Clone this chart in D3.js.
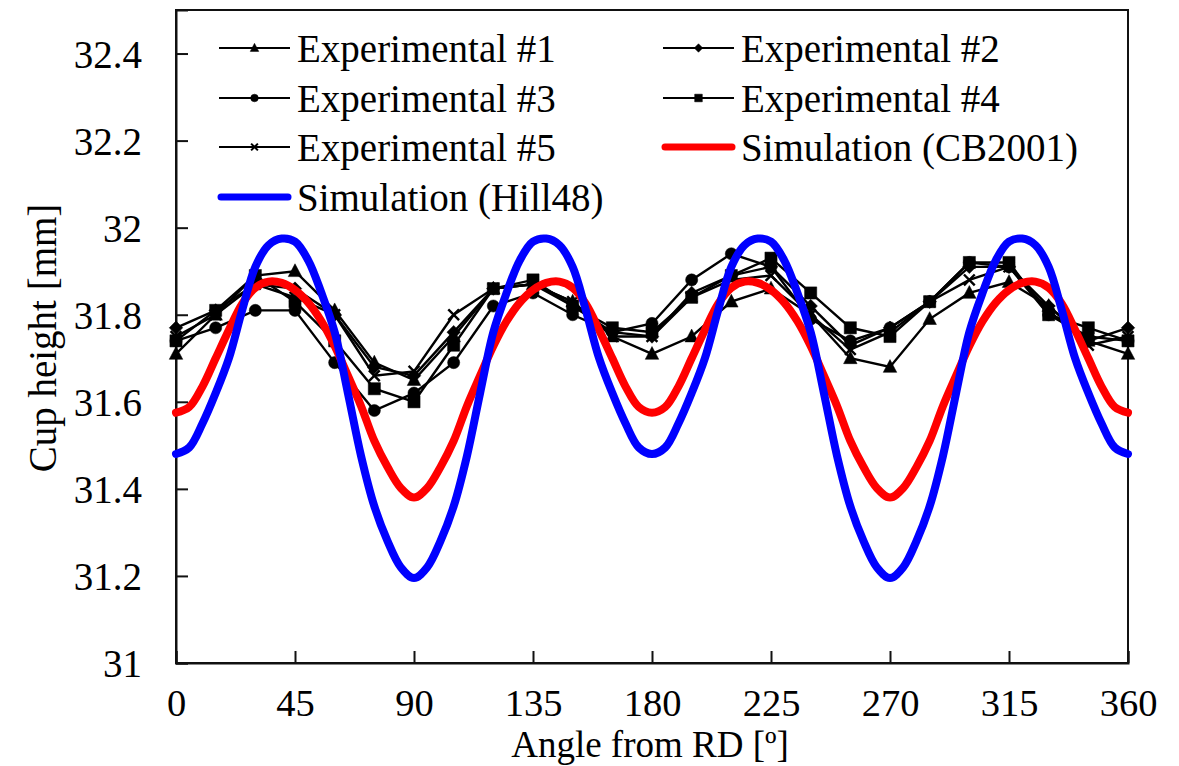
<!DOCTYPE html>
<html>
<head>
<meta charset="utf-8">
<script src="https://cdn.jsdelivr.net/npm/d3@7"></script>
<style>
  body { margin: 0; background: #fff; }
  text { font-family: "Liberation Serif", "Times New Roman", serif; fill: #000; }
</style>
</head>
<body>
<div class="chart"></div>
<script>
// measured angles (every 15 deg)
var expAngles = [0,15,30,45,60,75,90,105,120,135,150,165,180,195,210,225,240,255,270,285,300,315,330,345,360];
var exp1 = [31.71,31.80,31.89,31.90,31.81,31.69,31.65,31.75,31.86,31.87,31.83,31.75,31.71,31.75,31.83,31.86,31.80,31.70,31.68,31.79,31.85,31.875,31.82,31.74,31.71];
var exp2 = [31.77,31.81,31.87,31.86,31.80,31.68,31.66,31.76,31.86,31.87,31.82,31.76,31.75,31.85,31.89,31.91,31.82,31.73,31.77,31.83,31.91,31.91,31.82,31.74,31.77];
var exp3 = [31.74,31.77,31.81,31.81,31.69,31.58,31.62,31.69,31.82,31.85,31.80,31.76,31.78,31.88,31.94,31.91,31.79,31.74,31.77,31.83,31.92,31.91,31.80,31.75,31.74];
var exp4 = [31.74,31.81,31.89,31.83,31.74,31.63,31.60,31.73,31.86,31.88,31.82,31.77,31.76,31.84,31.89,31.93,31.85,31.77,31.75,31.83,31.92,31.92,31.80,31.77,31.74];
var exp5 = [31.75,31.80,31.87,31.84,31.80,31.66,31.67,31.80,31.86,31.87,31.83,31.75,31.75,31.84,31.88,31.89,31.80,31.72,31.76,31.83,31.88,31.91,31.81,31.73,31.75];

// simulation curves (every 5 deg)
var simAngles = [0,5,10,15,20,25,30,35,40,45,50,55,60,65,70,75,80,85,90,95,100,105,110,115,120,125,130,135,140,145,150,155,160,165,170,175,180,
  185,190,195,200,205,210,215,220,225,230,235,240,245,250,255,260,265,270,275,280,285,290,295,300,305,310,315,320,325,330,335,340,345,350,355,360];
var simCB2001 = [31.575,31.588,31.635,31.70,31.765,31.825,31.862,31.876,31.873,31.857,31.828,31.785,31.728,31.66,31.59,31.51,31.45,31.402,31.38,
  31.402,31.45,31.51,31.59,31.66,31.728,31.785,31.828,31.857,31.873,31.876,31.862,31.825,31.765,31.70,31.635,31.588,31.575,
  31.588,31.635,31.70,31.765,31.825,31.862,31.876,31.873,31.857,31.828,31.785,31.728,31.66,31.59,31.51,31.45,31.402,31.38,
  31.402,31.45,31.51,31.59,31.66,31.728,31.785,31.828,31.857,31.873,31.876,31.862,31.825,31.765,31.70,31.635,31.588,31.575];
var simHill48 = [31.48,31.495,31.55,31.62,31.70,31.81,31.91,31.96,31.975,31.968,31.925,31.85,31.76,31.62,31.475,31.36,31.28,31.22,31.195,
  31.22,31.28,31.36,31.475,31.62,31.76,31.85,31.925,31.968,31.975,31.96,31.91,31.81,31.70,31.62,31.55,31.495,31.48,
  31.495,31.55,31.62,31.70,31.81,31.91,31.96,31.975,31.968,31.925,31.85,31.76,31.62,31.475,31.36,31.28,31.22,31.195,
  31.22,31.28,31.36,31.475,31.62,31.76,31.85,31.925,31.968,31.975,31.96,31.91,31.81,31.70,31.62,31.55,31.495,31.48];

var xTicks = [0,45,90,135,180,225,270,315,360];
var yTicks = [31,31.2,31.4,31.6,31.8,32,32.2,32.4];

var seriesNames = ["Experimental #1","Experimental #2","Experimental #3","Experimental #4","Experimental #5","Simulation (CB2001)","Simulation (Hill48)"];

var svgWidth = 1179, svgHeight = 766;
var margin = {top: 10, right: 51, bottom: 103, left: 176};
var chart_width = svgWidth - margin.left - margin.right,
    chart_height = svgHeight - margin.top - margin.bottom;

var svg = d3.select(".chart").append("svg")
    .attr("width", svgWidth)
    .attr("height", svgHeight);

var x = d3.scaleLinear().domain([0, 360]).range([margin.left, margin.left + chart_width]);
var y = d3.scaleLinear().domain([31, 32.5]).range([margin.top + chart_height, margin.top]);

var fontSize = 39;

// frame
svg.append("rect")
  .attr("x", x(0)).attr("y", y(32.5))
  .attr("width", x(360) - x(0)).attr("height", y(31) - y(32.5))
  .attr("fill", "none").attr("stroke", "#111").attr("stroke-width", 2);

// axes with inward ticks
var xAxis = svg.append("g")
  .attr("transform", "translate(0," + y(31) + ")")
  .call(d3.axisBottom(x).tickValues(xTicks).tickSize(-12).tickPadding(0).tickFormat(d3.format("d")));
xAxis.select(".domain").attr("stroke", "#111").attr("stroke-width", 2);
xAxis.selectAll(".tick line").attr("stroke", "#111").attr("stroke-width", 2);
xAxis.selectAll(".tick text")
  .attr("y", 53).attr("dy", 0)
  .style("font-size", "38.5px");

var yAxis = svg.append("g")
  .attr("transform", "translate(" + x(0) + ",0)")
  .call(d3.axisLeft(y).tickValues(yTicks).tickSize(-12).tickPadding(0).tickFormat(function(d){ return d3.format("")(+d.toFixed(1)); }));
yAxis.select(".domain").attr("stroke", "#111").attr("stroke-width", 2);
yAxis.selectAll(".tick line").attr("stroke", "#111").attr("stroke-width", 2);
yAxis.selectAll(".tick text")
  .attr("x", -34).attr("dy", "0.35em")
  .style("font-size", fontSize + "px");

// axis titles
svg.append("text")
  .attr("x", 650).attr("y", 757)
  .attr("text-anchor", "middle")
  .style("font-size", "37px")
  .text("Angle from RD [º]");

svg.append("text")
  .attr("transform", "translate(56,338) rotate(-90)")
  .attr("text-anchor", "middle")
  .style("font-size", fontSize + "px")
  .text("Cup height [mm]");

// marker shapes
function markerPath(kind, s) {
  var h = s / 2;
  if (kind === "triangle") return "M0," + (-h * 1.1) + "L" + h + "," + (h * 0.8) + "L" + (-h) + "," + (h * 0.8) + "Z";
  if (kind === "diamond") return "M0," + (-h) + "L" + h + ",0L0," + h + "L" + (-h) + ",0Z";
  if (kind === "square") return "M" + (-h * 0.9) + "," + (-h * 0.9) + "h" + (s * 0.9) + "v" + (s * 0.9) + "h" + (-s * 0.9) + "Z";
  if (kind === "circle") { var r = h * 0.9; return "M" + (-r) + ",0A" + r + "," + r + " 0 1,0 " + r + ",0A" + r + "," + r + " 0 1,0 " + (-r) + ",0Z"; }
  if (kind === "x") { var c = h * 0.8; return "M" + (-c) + "," + (-c) + "L" + c + "," + c + "M" + (-c) + "," + c + "L" + c + "," + (-c); }
}

var expSeries = [
  {name: seriesNames[0], values: exp1, marker: "triangle"},
  {name: seriesNames[1], values: exp2, marker: "diamond"},
  {name: seriesNames[2], values: exp3, marker: "circle"},
  {name: seriesNames[3], values: exp4, marker: "square"},
  {name: seriesNames[4], values: exp5, marker: "x"}
];

var expLine = d3.line()
  .x(function(d){ return x(d[0]); })
  .y(function(d){ return y(d[1]); });

var plot = svg.append("g");

expSeries.forEach(function(s) {
  var pts = expAngles.map(function(a, i){ return [a, s.values[i]]; });
  plot.append("path")
    .attr("d", expLine(pts))
    .attr("fill", "none").attr("stroke", "#000").attr("stroke-width", 2.4);
  plot.selectAll(null)
    .data(pts)
    .enter()
    .append("path")
      .attr("transform", function(d){ return "translate(" + x(d[0]) + "," + y(d[1]) + ")"; })
      .attr("d", markerPath(s.marker, 13.5))
      .attr("fill", s.marker === "x" ? "none" : "#000")
      .attr("stroke", "#000")
      .attr("stroke-width", s.marker === "x" ? 2.4 : 0.5);
});

var simLine = d3.line()
  .x(function(d){ return x(d[0]); })
  .y(function(d){ return y(d[1]); })
  .curve(d3.curveCatmullRom.alpha(0.5));

[{values: simCB2001, color: "#ff0000"}, {values: simHill48, color: "#0000ff"}].forEach(function(s) {
  var pts = simAngles.map(function(a, i){ return [a, s.values[i]]; });
  plot.append("path")
    .attr("d", simLine(pts))
    .attr("fill", "none")
    .attr("stroke", s.color)
    .attr("stroke-width", 8)
    .attr("stroke-linecap", "round")
    .attr("stroke-linejoin", "round");
});

// legend
var legendItems = [
  {name: seriesNames[0], marker: "triangle", col: 0, row: 0},
  {name: seriesNames[1], marker: "diamond", col: 1, row: 0},
  {name: seriesNames[2], marker: "circle", col: 0, row: 1},
  {name: seriesNames[3], marker: "square", col: 1, row: 1},
  {name: seriesNames[4], marker: "x", col: 0, row: 2},
  {name: seriesNames[5], color: "#ff0000", col: 1, row: 2},
  {name: seriesNames[6], color: "#0000ff", col: 0, row: 3}
];
var colX = [219, 663];
var rowY = [48, 98, 147, 197];

var legend = svg.append("g");
legendItems.forEach(function(it) {
  var lx = colX[it.col], ly = rowY[it.row];
  if (it.color) {
    legend.append("line")
      .attr("x1", lx + 2).attr("x2", lx + 69)
      .attr("y1", ly).attr("y2", ly)
      .attr("stroke", it.color).attr("stroke-width", 7).attr("stroke-linecap", "round");
  } else {
    legend.append("line")
      .attr("x1", lx).attr("x2", lx + 71)
      .attr("y1", ly).attr("y2", ly)
      .attr("stroke", "#000").attr("stroke-width", 2.2);
    legend.append("path")
      .attr("transform", "translate(" + (lx + 35.5) + "," + ly + ")")
      .attr("d", markerPath(it.marker, 8.5))
      .attr("fill", it.marker === "x" ? "none" : "#000")
      .attr("stroke", "#000")
      .attr("stroke-width", it.marker === "x" ? 2 : 0.5);
  }
  legend.append("text")
    .attr("x", lx + 78).attr("y", ly)
    .attr("dy", "0.35em")
    .style("font-size", fontSize + "px")
    .text(it.name);
});
</script>
</body>
</html>
